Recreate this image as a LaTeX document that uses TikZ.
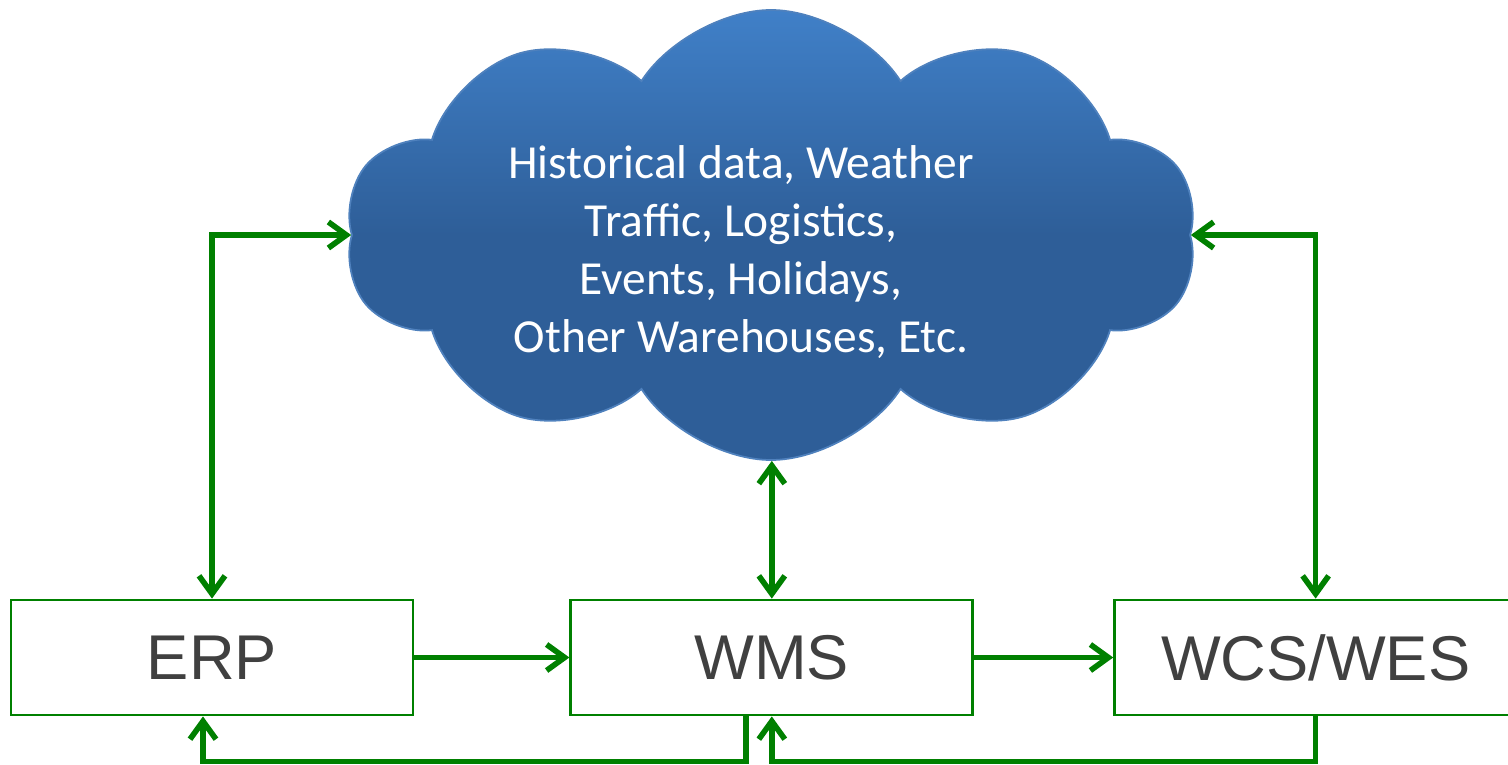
\documentclass[tikz,border=0pt]{standalone}
\usepackage{fontspec}
\setmainfont{Liberation Sans}
\newfontfamily\cloudfont{Carlito}
\usetikzlibrary{shapes.symbols,arrows.meta,positioning}
\definecolor{linkgreen}{RGB}{0,128,0}
\definecolor{cloudblue}{RGB}{46,94,152}
\definecolor{cloudtop}{RGB}{64,128,200}
\definecolor{cloudedge}{RGB}{79,129,189}
\definecolor{boxtext}{RGB}{64,64,64}
\tikzset{
    sysbox/.style = {draw=linkgreen, line width=1.6pt, minimum width=8.04cm, minimum height=2.3cm,
                     text=boxtext, font=\fontsize{36}{40}\selectfont},
    datacloud/.style = {cloud, cloud puffs=10, cloud puff arc=115, aspect=1.9, draw=cloudedge, line width=1pt,
                        top color=cloudtop, bottom color=cloudblue, middle color=cloudblue,
                        minimum width=17.04cm, minimum height=9cm},
    cloudtext/.style = {text=white, align=center, font=\cloudfont\fontsize{27}{33}\selectfont},
    link/.style = {draw=linkgreen, line width=3.2pt, -{Straight Barb[length=0.36cm,width=0.52cm]}},
    biarrow/.style = {link, {Straight Barb[length=0.36cm,width=0.52cm]}-{Straight Barb[length=0.36cm,width=0.52cm]}}
}
\begin{document}
\begin{tikzpicture}
    \useasboundingbox (0,0) rectangle (30.16,-15.3);
    \node[datacloud] (cloud) at (15.42,-4.7) {};
    \node[cloudtext] (info) at ([xshift=-0.6cm,yshift=-0.34cm]cloud.center)
        {Historical data, Weather\\Traffic, Logistics,\\Events, Holidays,\\Other Warehouses, Etc.};
    \node[sysbox] (erp) at (4.24,-13.15) {ERP};
    \node[sysbox, right=3.10cm of erp] (wms) {WMS};
    \node[sysbox, right=2.78cm of wms] (wcs) {WCS/WES};
    % links to the cloud
    \draw[biarrow] (erp.north) |- (cloud.west);
    \draw[biarrow] (wms.north) -- (wms.north |- cloud.south);
    \draw[biarrow] (wcs.north) |- (cloud.east);
    % links between the systems
    \draw[link] (erp) -- (wms);
    \draw[link] (wms) -- (wcs);
    \draw[link] ([xshift=-0.52cm]wms.south) -- ++(0,-0.9) -| ([xshift=-0.18cm]erp.south);
    \draw[link] (wcs.south) -- ++(0,-0.9) -| (wms.south);
\end{tikzpicture}
\end{document}
